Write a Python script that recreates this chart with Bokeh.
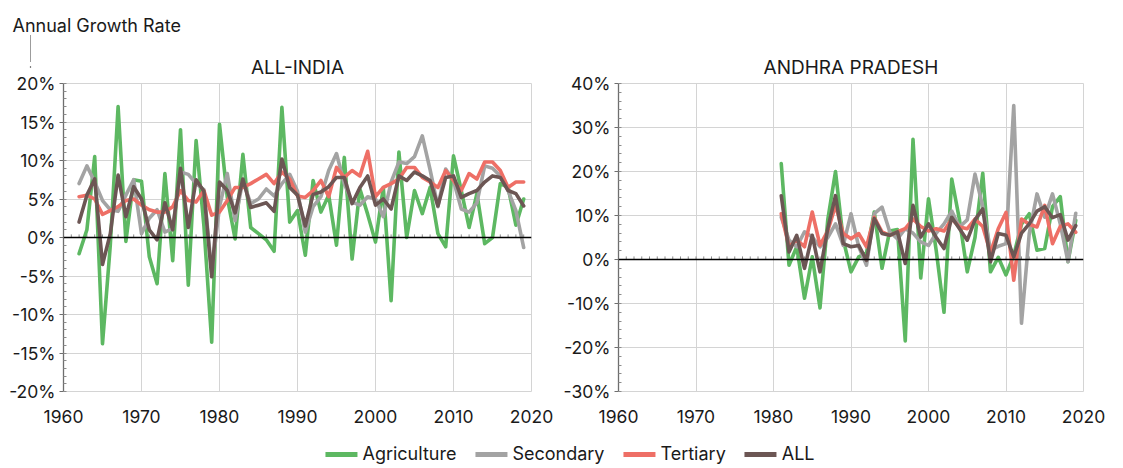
from bokeh.plotting import figure
from bokeh.models import (Range1d, Span, Arrow, NormalHead, Title,
                          PrintfTickFormatter, FixedTicker, Legend, LegendItem)
from bokeh.layouts import row, column
from bokeh.embed import file_html
from bokeh.resources import INLINE

# ---------------- data (annual growth, %) ----------------
years_india = list(range(1962, 2020))
india_agriculture = [-2.1, 1.0, 10.5, -13.8, -1.0, 17.0, -0.5, 7.5, 7.3, -2.5,
                     -6.0, 8.3, -3.0, 14.0, -6.2, 12.6, 1.5, -13.6, 14.7, 5.2,
                     -0.2, 10.8, 1.3, 0.5, -0.3, -1.8, 16.9, 2.0, 3.5, -2.3,
                     7.4, 3.3, 5.5, -1.0, 10.4, -2.8, 6.3, 3.0, -0.6, 6.5,
                     -8.2, 11.1, 0.0, 6.1, 3.1, 6.5, 0.5, -1.2, 10.6, 6.1,
                     1.3, 5.7, -0.8, 0.0, 7.0, 6.5, 1.6, 5.0]
india_secondary = [7.0, 9.3, 7.2, 4.8, 3.6, 3.4, 5.5, 7.5, 0.5, 2.5,
                   3.6, 0.7, 1.2, 8.5, 8.2, 7.0, 6.2, -4.5, 4.0, 8.3,
                   2.2, 7.4, 4.4, 5.0, 6.3, 5.4, 7.0, 8.2, 6.0, 0.7,
                   4.0, 5.3, 8.7, 10.9, 7.0, 4.6, 4.2, 5.3, 5.0, 2.7,
                   7.2, 9.8, 9.6, 10.5, 13.2, 8.8, 4.0, 8.9, 7.4, 3.7,
                   3.3, 4.5, 9.3, 9.0, 8.0, 6.1, 3.5, -1.3]
india_tertiary = [5.3, 5.5, 5.0, 3.0, 3.5, 4.0, 4.8, 5.0, 4.2, 3.6,
                  3.3, 3.3, 4.0, 6.1, 4.8, 4.6, 6.1, 2.9, 3.3, 4.8,
                  6.5, 6.5, 7.0, 7.6, 8.2, 7.0, 8.5, 7.6, 5.4, 5.2,
                  6.1, 7.4, 5.3, 9.1, 7.8, 8.7, 8.0, 11.2, 5.3, 6.5,
                  7.0, 7.6, 9.1, 9.1, 7.8, 7.2, 6.5, 8.7, 7.4, 6.1,
                  8.3, 7.6, 9.8, 9.8, 8.7, 6.5, 7.2, 7.2]
india_all = [2.0, 5.5, 7.6, -3.5, 0.5, 8.1, 2.7, 6.6, 5.0, 1.0,
             -0.3, 4.5, 1.0, 9.0, 1.3, 7.5, 6.0, -5.1, 7.2, 6.1,
             3.2, 7.6, 3.9, 4.2, 4.5, 3.4, 10.2, 6.5, 5.5, 1.5,
             5.6, 5.9, 6.6, 7.8, 7.8, 4.4, 6.5, 8.0, 4.2, 5.0,
             3.7, 8.0, 7.4, 8.5, 8.0, 7.4, 4.1, 7.8, 8.0, 5.2,
             5.7, 6.1, 7.2, 8.0, 7.8, 6.1, 5.7, 4.1]

years_ap = list(range(1981, 2020))
ap_agriculture = [21.8, -1.3, 2.9, -8.8, 0.6, -11.0, 9.0, 20.0, 4.5, -2.8,
                  0.6, 1.5, 10.8, -2.0, 6.5, 6.8, -18.5, 27.3, -4.2, 13.8,
                  2.0, -12.0, 18.3, 9.0, -2.8, 5.0, 19.6, -2.8, 0.5, -3.5,
                  1.0, 8.0, 10.4, 2.1, 2.5, 12.0, 14.3, -0.5, 8.9]
ap_secondary = [9.6, 4.4, 2.9, 6.3, 5.1, 2.9, 5.0, 8.1, 3.2, 10.4,
                2.9, -1.3, 10.4, 11.9, 6.3, 4.7, 7.0, 6.0, 4.0, 3.2,
                6.0, 8.1, 11.0, 7.4, 9.0, 19.4, 12.0, 2.1, 3.0, 3.6,
                35.0, -14.5, 5.9, 14.9, 9.6, 14.9, 8.1, -0.5, 10.5]
ap_tertiary = [10.4, 2.9, 4.5, 2.9, 10.8, 3.2, 6.5, 12.3, 5.9, 4.7,
               5.9, 2.9, 9.6, 6.3, 5.5, 6.3, 7.0, 9.2, 7.5, 6.5,
               7.0, 6.5, 9.2, 7.4, 7.0, 9.2, 7.5, 1.5, 7.0, 10.7,
               -4.7, 9.2, 8.0, 7.4, 12.3, 3.6, 7.5, 8.1, 6.2]
ap_all = [14.5, 1.7, 5.5, -2.0, 5.5, -2.8, 7.0, 14.5, 3.6, 2.9,
          3.2, -0.2, 9.3, 5.9, 5.5, 6.3, -0.9, 12.3, 5.1, 8.1,
          5.0, 2.5, 9.6, 7.0, 4.4, 9.0, 11.5, -0.5, 5.9, 5.5,
          0.6, 6.0, 8.1, 11.0, 12.0, 9.5, 10.2, 4.4, 7.7]

series_names = ["Agriculture", "Secondary", "Tertiary", "ALL"]
series_colors = ["#5DB862", "#A3A3A3", "#EE6F66", "#6C5654"]
x_ticks = [1960, 1970, 1980, 1990, 2000, 2010, 2020]

FONT = "Inter"
TXT = "#1a1a1a"
GRID = "#D4D4D4"


def make_panel(title, years, series, y0, y1, ystep, width, bl, br, tick_h,
               extra_title=None):
    p = figure(width=width, height=428, x_range=Range1d(1960, 2020),
               y_range=Range1d(y0, y1), output_backend="svg", title=None,
               toolbar_location=None, min_border_left=bl, min_border_right=br,
               min_border_top=83, min_border_bottom=37)
    p.background_fill_color = "white"
    p.border_fill_color = "white"
    p.outline_line_color = GRID
    p.add_layout(Title(text=title, align="center", text_font=FONT,
                       text_font_size="19px", text_font_style="normal",
                       text_color=TXT, standoff=9), "above")
    if extra_title is not None:
        p.add_layout(extra_title, "above")

    p.xaxis.ticker = FixedTicker(ticks=x_ticks)
    p.xgrid.ticker = FixedTicker(ticks=x_ticks)
    yt = list(range(y0, y1 + 1, ystep))
    minor = [y0 + i * ystep / 5 for i in range(int((y1 - y0) / ystep * 5) + 1)]
    p.yaxis.ticker = FixedTicker(ticks=yt, minor_ticks=minor)
    p.ygrid.ticker = FixedTicker(ticks=yt)
    p.yaxis.formatter = PrintfTickFormatter(format="%d%%")
    p.xgrid.grid_line_color = GRID
    p.ygrid.grid_line_color = GRID
    p.xgrid.grid_line_width = 1
    p.ygrid.grid_line_width = 1

    for ax in (p.xaxis, p.yaxis):
        ax.major_label_text_font = FONT
        ax.major_label_text_font_size = "17.5px"
        ax.major_label_text_color = TXT
    p.xaxis.axis_line_color = None
    p.xaxis.major_tick_line_color = None
    p.xaxis.minor_tick_line_color = None
    p.xaxis.major_label_standoff = 12
    p.yaxis.axis_line_color = "#6E6E6E"
    p.yaxis.axis_line_width = 1.3
    p.yaxis.major_tick_line_color = "#6E6E6E"
    p.yaxis.minor_tick_line_color = "#8C8C8C"
    p.yaxis.major_tick_out = 4
    p.yaxis.major_tick_in = 0
    p.yaxis.minor_tick_out = 0
    p.yaxis.minor_tick_in = 3
    p.yaxis.major_label_standoff = 4

    # zero axis line with small year ticks
    tick_years = list(range(1961, 2020))
    p.segment(x0=tick_years, y0=[0] * len(tick_years), x1=tick_years,
              y1=[tick_h] * len(tick_years), line_color="#8C8C8C", line_width=1)
    p.add_layout(Span(location=0, dimension="width", line_color="black",
                      line_width=1.3))

    for vals, c in zip(series, series_colors):
        p.line(years, vals, line_color=c, line_width=3.6,
               line_join="round", line_cap="round")
    return p


axis_note = Title(text="Annual Growth Rate", align="left", offset=-51,
                  vertical_align="top", text_font=FONT, text_font_size="18px",
                  text_font_style="normal", text_color=TXT, standoff=24)

p1 = make_panel("ALL-INDIA", years_india,
                [india_agriculture, india_secondary, india_tertiary, india_all],
                -20, 20, 5, 560, 63, 29, 0.4, extra_title=axis_note)
p2 = make_panel("ANDHRA PRADESH", years_ap,
                [ap_agriculture, ap_secondary, ap_tertiary, ap_all],
                -30, 40, 10, 555, 57, 32, 0.7)

# pointer arrow under the note (left of the y axis, above the plot frame):
# tip first, then the stem built from a column of tiny arrow heads
PX_PER_PCT = 308 / 40.0
arrow_x = 1960 - 33 / 7.8
p1.add_layout(Arrow(x_start=arrow_x, y_start=20 + 17 / PX_PER_PCT, x_end=arrow_x,
                    y_end=20 + 16 / PX_PER_PCT,
                    line_color="black", line_width=1.2,
                    end=NormalHead(size=6, fill_color="black",
                                   line_color="black", line_width=1)))
for k in range(27):
    y_tip = 20 + (22 + k * 1.0) / PX_PER_PCT
    p1.add_layout(Arrow(x_start=arrow_x, y_start=y_tip + 0.05, x_end=arrow_x,
                        y_end=y_tip, line_color="black", line_width=1,
                        end=NormalHead(size=2.2, fill_color="#222222",
                                       line_color="#222222", line_width=0.5)))

# legend strip
leg = figure(width=1115, height=36, x_range=Range1d(0, 1), y_range=Range1d(0, 1),
             output_backend="svg", toolbar_location=None,
             x_axis_location=None, y_axis_location=None,
             min_border_left=25, min_border_right=0, min_border_top=0,
             min_border_bottom=0)
leg.grid.visible = False
leg.outline_line_color = None
items = []
for name, c in zip(series_names, series_colors):
    r = leg.line(x=[5, 6], y=[5, 6], line_color=c, line_width=5, line_cap="round")
    items.append(LegendItem(label=name, renderers=[r]))
legend = Legend(items=items, orientation="horizontal", location="bottom_center",
                glyph_width=32, label_standoff=5, spacing=19, padding=0,
                margin=0, border_line_color=None, background_fill_alpha=0,
                label_text_font=FONT, label_text_font_size="18px",
                label_text_color=TXT)
leg.add_layout(legend, "center")

layout = column(row(p1, p2), leg)
open("out.html", "w").write(file_html(layout, INLINE))
